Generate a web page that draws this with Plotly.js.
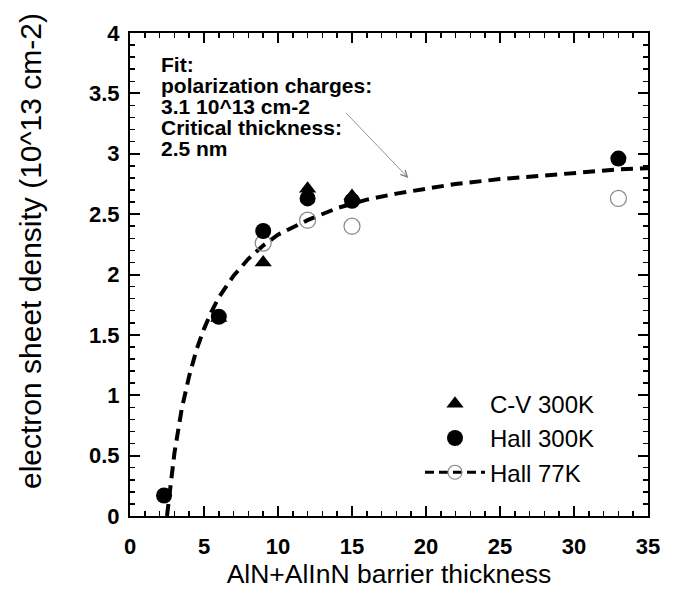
<!DOCTYPE html>
<html><head><meta charset="utf-8">
<script src="https://cdn.plot.ly/plotly-3.0.1.min.js"></script>
<style>html,body{margin:0;padding:0;background:#fff}#plot{width:675px;height:589px}</style>
</head><body><div id="plot"></div>
<script>
// Data
const cvX = [6, 9, 12, 15];
const cvY = [1.64, 2.10, 2.71, 2.65];
const hall300X = [2.3, 6, 9, 12, 15, 33];
const hall300Y = [0.17, 1.65, 2.36, 2.63, 2.61, 2.96];
const hall77X = [9, 12, 15, 33];
const hall77Y = [2.26, 2.45, 2.40, 2.63];
const fitX = [2.5, 2.75, 3, 3.5, 4, 4.5, 5, 5.5, 6, 7, 8, 9, 10, 12, 14, 16, 18, 20, 22, 25, 28, 30, 33, 35];
const fitY = [0.0, 0.28, 0.52, 0.89, 1.16, 1.38, 1.55, 1.69, 1.81, 1.99, 2.13, 2.24, 2.33, 2.45, 2.55, 2.62, 2.67, 2.71, 2.75, 2.79, 2.82, 2.84, 2.87, 2.88];
const noteLines = ["Fit:", "polarization charges:", "3.1 10^13 cm-2", "Critical thickness:", "2.5 nm"];
const xTitle = 'AlN+AlInN barrier thickness';
const yTitle = 'electron sheet density (10^13 cm-2)';
const arrowTail = [14.5, 3.35];
const arrowHead = [18.8, 2.80];

const FAM = 'Liberation Sans, Arial, Helvetica, sans-serif';
const traces = [
  {x: fitX, y: fitY, mode: 'lines', line: {color: '#000', width: 4, dash: '12px,7px'}, showlegend: false, hoverinfo: 'skip'},
  {x: hall77X, y: hall77Y, mode: 'markers', marker: {symbol: 'circle-open', size: 16, color: '#888', line: {width: 1.2}}, showlegend: false},
  {x: cvX, y: cvY, mode: 'markers', name: 'C-V 300K', marker: {symbol: 'triangle-up', size: 15, color: '#000'}},
  {x: hall300X, y: hall300Y, mode: 'markers', name: 'Hall 300K', marker: {symbol: 'circle', size: 16, color: '#000'}},
  {x: [null], y: [null], mode: 'lines+markers', name: 'Hall 77K', line: {color: '#000', width: 3, dash: '9px,5px'}, marker: {symbol: 'circle-open', size: 14, color: '#888', line: {width: 1.2}}}
];

const W = 675, H = 589, mL = 130, mR = 27, mT = 33, mB = 73;
const pw = W - mL - mR, ph = H - mT - mB;
const px2x = p => (p - mL) / pw;
const px2y = p => 1 - (p - mT) / ph;

const tickFont = {family: FAM, size: 22, color: '#000', weight: 'bold'};
const noteAnns = noteLines.map((t, i) => ({
  x: px2x(159), y: px2y(65 + 20.8 * i), xref: 'paper', yref: 'paper', showarrow: false,
  xanchor: 'left', yanchor: 'middle', align: 'left', text: t,
  font: {family: FAM, size: 21, color: '#000', weight: 'bold'}
}));

const layout = {
  width: W, height: H,
  margin: {l: mL, r: mR, t: mT, b: mB},
  paper_bgcolor: '#fff', plot_bgcolor: '#fff',
  showlegend: true,
  legend: {x: px2x(420), y: 0.278, xanchor: 'left', yanchor: 'top', bgcolor: 'rgba(0,0,0,0)',
           font: {family: FAM, size: 24, color: '#000'},
           itemwidth: 60, tracegroupgap: 0, traceorder: 'normal'},
  xaxis: {range: [0, 35], dtick: 5, tick0: 0, showgrid: false, zeroline: false,
          showline: true, linecolor: '#000', linewidth: 2, mirror: 'allticks',
          ticks: 'inside', ticklen: 10, tickwidth: 2, tickcolor: '#000',
          minor: {dtick: 1, ticks: 'inside', ticklen: 5, tickwidth: 1.5, tickcolor: '#000'},
          tickfont: tickFont, ticklabelstandoff: 10,
          title: {text: xTitle, font: {family: FAM, size: 26.5, color: '#000'}, standoff: 4}},
  yaxis: {range: [0, 4], dtick: 0.5, tick0: 0, showgrid: false, zeroline: false,
          showline: true, linecolor: '#000', linewidth: 2, mirror: 'allticks',
          ticks: 'inside', ticklen: 10, tickwidth: 2, tickcolor: '#000',
          minor: {dtick: 0.1, ticks: 'inside', ticklen: 5, tickwidth: 1.5, tickcolor: '#000'},
          tickfont: tickFont, ticklabelstandoff: 4},
  annotations: noteAnns.concat([
    {x: px2x(30), y: px2y(251), xref: 'paper', yref: 'paper', showarrow: false, textangle: -90,
     xanchor: 'center', yanchor: 'middle', text: yTitle, font: {family: FAM, size: 30, color: '#000'}},
    {x: arrowHead[0], y: arrowHead[1], ax: arrowTail[0], ay: arrowTail[1], xref: 'x', yref: 'y', axref: 'x', ayref: 'y',
     text: '', showarrow: true, arrowhead: 5, arrowsize: 1.6, arrowwidth: 0.8, arrowcolor: '#777'}
  ])
};
Plotly.newPlot('plot', traces, layout, {displayModeBar: false, staticPlot: true});
</script></body></html>
